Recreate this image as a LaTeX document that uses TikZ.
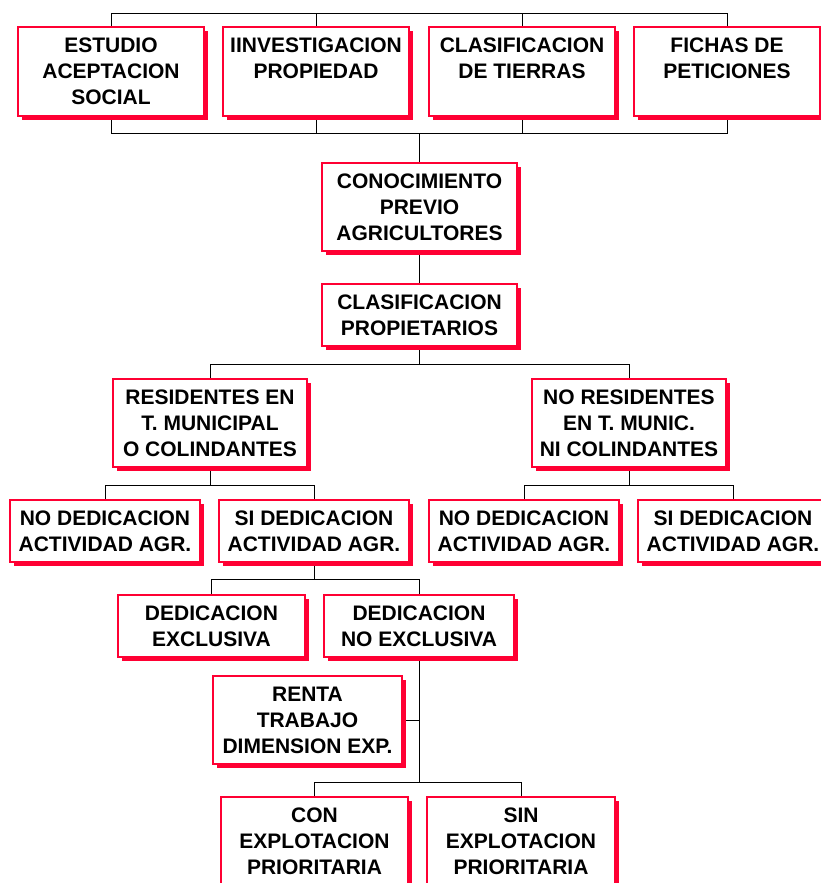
\documentclass[tikz,border=0pt]{standalone}
\usepackage{fontspec}
\setmainfont{Liberation Sans}
\usepackage{tikz}
\usetikzlibrary{shadows,backgrounds}
\definecolor{boxred}{HTML}{FF0033}

\begin{document}
\begin{tikzpicture}
[
x=1pt,y=-1pt,
box/.style 2 args={fill=white,
            minimum width=#1pt,minimum height=#2pt,inner sep=0pt,
            align=center,font=\bfseries\fontsize{21}{26}\selectfont,
            drop shadow={shadow xshift=4pt,shadow yshift=-4pt,fill=boxred,opacity=1},
            draw=boxred,line width=1.2pt},
link/.style={draw=black,line width=1.5pt},
]
\useasboundingbox (0,0) rectangle (821,883);

%Place the nodes
\node[box={186}{89}] (est) at (111,71.5) {ESTUDIO\\ACEPTACION\\SOCIAL};
\node[box={186}{89}] (inv) at (316,71.5) {IINVESTIGACION\\PROPIEDAD\\~};
\node[box={186}{89}] (cla) at (522,71.5) {CLASIFICACION\\DE TIERRAS\\~};
\node[box={186}{89}] (fic) at (727,71.5) {FICHAS DE\\PETICIONES\\~};
\node[box={195}{88}] (con) at (419.5,207) {CONOCIMIENTO\\PREVIO\\AGRICULTORES};
\node[box={195}{62}] (pro) at (419.5,315) {CLASIFICACION\\PROPIETARIOS};
\node[box={194}{88}] (res) at (210,423) {RESIDENTES EN\\T. MUNICIPAL\\O COLINDANTES};
\node[box={194}{88}] (nres) at (629,423) {NO RESIDENTES\\EN T. MUNIC.\\NI COLINDANTES};
\node[box={190}{62}] (nda1) at (105,531) {NO DEDICACION\\ACTIVIDAD AGR.};
\node[box={190}{62}] (sda1) at (314,531) {SI DEDICACION\\ACTIVIDAD AGR.};
\node[box={190}{62}] (nda2) at (524,531) {NO DEDICACION\\ACTIVIDAD AGR.};
\node[box={190}{62}] (sda2) at (733,531) {SI DEDICACION\\ACTIVIDAD AGR.};
\node[box={187}{62}] (dex) at (211.5,626) {DEDICACION\\EXCLUSIVA};
\node[box={190}{62}] (dnx) at (419,626) {DEDICACION\\NO EXCLUSIVA};
\node[box={189}{88}] (renta) at (307.5,720) {RENTA\\TRABAJO\\DIMENSION EXP.};
\node[box={187}{88}] (conx) at (314.5,841) {CON\\EXPLOTACION\\PRIORITARIA};
\node[box={188}{88}] (sinx) at (521,841) {SIN\\EXPLOTACION\\PRIORITARIA};

%Draw the connections
\begin{scope}[on background layer,link]
\draw (est.north) -- (est.north |- 0,13) -| (fic.north);
\draw (inv.north) -- (inv.north |- 0,13);
\draw (cla.north) -- (cla.north |- 0,13);
\draw (est.south) -- (est.south |- 0,133) -| (fic.south);
\draw (inv.south) -- (inv.south |- 0,133);
\draw (cla.south) -- (cla.south |- 0,133);
\draw (con.north) -- (con.north |- 0,133);
\draw (con.south) -- (pro.north);
\draw (pro.south) -- (pro.south |- 0,364);
\draw (res.north) -- (res.north |- 0,364) -| (nres.north);
\draw (res.south) -- (res.south |- 0,485);
\draw (nda1.north) -- (nda1.north |- 0,485) -| (sda1.north);
\draw (nres.south) -- (nres.south |- 0,485);
\draw (nda2.north) -- (nda2.north |- 0,485) -| (sda2.north);
\draw (sda1.south) -- (sda1.south |- 0,579);
\draw (dex.north) -- (dex.north |- 0,579) -| (dnx.north);
\draw (dnx.south) -- (dnx.south |- 0,782);
\draw (renta.east) -- (renta.east -| dnx.south);
\draw (conx.north) -- (conx.north |- 0,782) -| (sinx.north);
\end{scope}
\end{tikzpicture}
\end{document}
